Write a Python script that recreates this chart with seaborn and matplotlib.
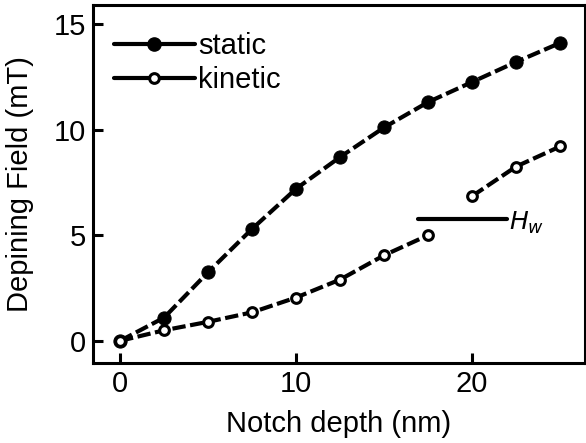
import numpy as np
import pandas as pd
import seaborn as sns
import matplotlib.pyplot as plt
from matplotlib.lines import Line2D

# dados
depth = [0, 2.5, 5, 7.5, 10, 12.5, 15, 17.5, 20, 22.5, 25]
static = [0, 1.1, 3.25, 5.3, 7.2, 8.7, 10.1, 11.3, 12.25, 13.2, 14.1]
kinetic = [0, 0.5, 0.9, 1.35, 2.05, 2.9, 4.05, 5.0, 6.85, 8.25, 9.2]
hw_x = [16.9, 22.0]
hw_y = 5.75

sns.set_style("ticks")
plt.rcParams['font.family'] = ['Liberation Sans', 'DejaVu Sans']
plt.rcParams['text.color'] = 'black'
plt.rcParams['axes.labelcolor'] = 'black'
plt.rcParams['xtick.color'] = 'black'
plt.rcParams['ytick.color'] = 'black'
plt.rcParams['axes.edgecolor'] = 'black'

fig = plt.figure(figsize=(5.86, 4.43), dpi=100)
ax = fig.add_axes([0.159, 0.181, 0.839, 0.808])

dash = (0, (3.2, 1.1))
df = pd.DataFrame({'depth': depth, 'static': static, 'kinetic': kinetic})

sns.lineplot(data=df, x='depth', y='static', ax=ax, color='black', lw=3,
             ls=dash, marker='o', markersize=9.5, markerfacecolor='black',
             markeredgecolor='black')

# kinetic tem um salto entre 17.5 e 20 (H_w)
k1 = df[df['depth'] <= 17.5]
k2 = df[df['depth'] >= 20]
for part in [k1, k2]:
    sns.lineplot(data=part, x='depth', y='kinetic', ax=ax, color='black', lw=3,
                 ls=dash, marker='o', markersize=7, markerfacecolor='white',
                 markeredgecolor='black', markeredgewidth=2.2)

ax.plot(hw_x, [hw_y, hw_y], color='black', lw=3, solid_capstyle='round')
ax.text(hw_x[1] + 0.1, hw_y - 0.15, r'$H_w$', fontsize=18, va='center', ha='left')

ax.set_xlim(-1.53, 26.4)
ax.set_ylim(-1.04, 15.9)
ax.set_xticks([0, 10, 20])
ax.set_yticks([0, 5, 10, 15])
ax.tick_params(direction='in', length=7, width=2.2, labelsize=21, pad=5)
ax.set_xlabel('Notch depth (nm)', fontsize=21, labelpad=9)
ax.set_ylabel('Depining Field (mT)', fontsize=21, labelpad=14)
for s in ax.spines.values():
    s.set_linewidth(2.2)

handles = [
    Line2D([], [], color='black', lw=3, marker='o', markersize=9.5,
           markerfacecolor='black'),
    Line2D([], [], color='black', lw=3, marker='o', markersize=7,
           markerfacecolor='white', markeredgewidth=2.2),
]
ax.legend(handles, ['static', 'kinetic'], loc='upper left', frameon=False,
          fontsize=21, handlelength=2.8, handletextpad=0.1,
          labelspacing=0.2, borderaxespad=0.3, bbox_to_anchor=(0.0, 0.98))

fig.savefig('out.png', dpi=100)
